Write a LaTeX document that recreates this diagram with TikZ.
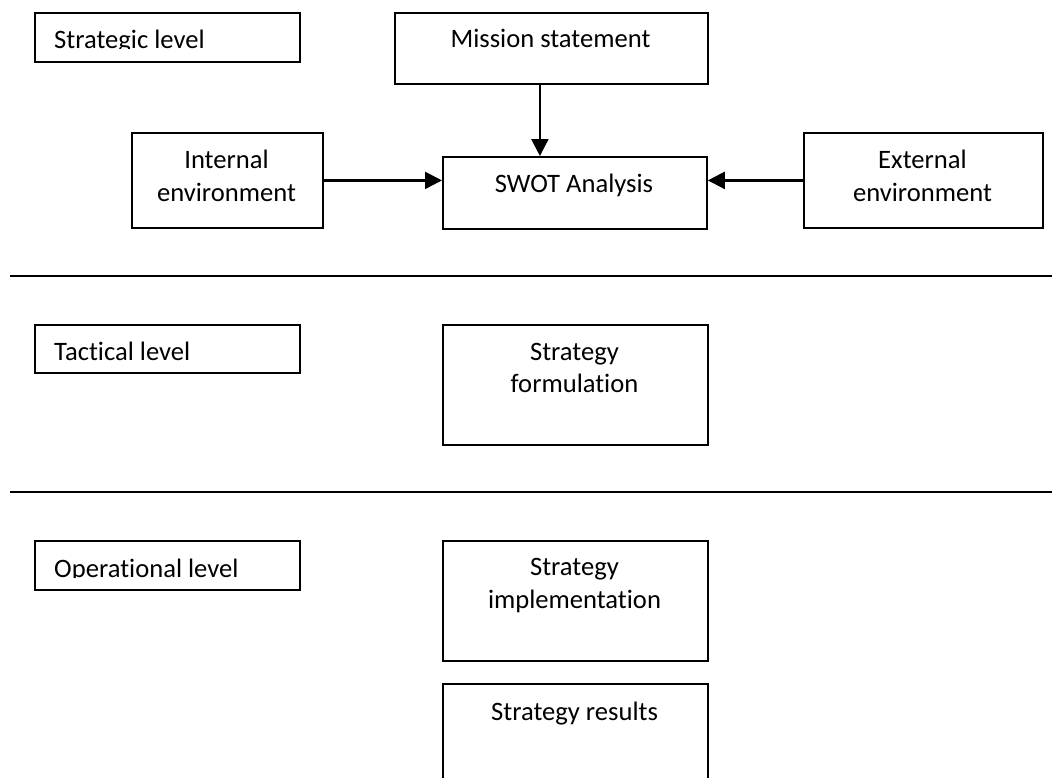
\documentclass[tikz,border=0pt]{standalone}
\usepackage{fontspec}
\setmainfont{Carlito}[Ligatures=NoCommon]
\usetikzlibrary{arrows.meta}
\begin{document}
\begin{tikzpicture}[x=1pt,y=-1pt,
  box/.style={draw, line width=1.8pt, rectangle, inner sep=0pt, anchor=north west},
  txt/.style={anchor=base, inner sep=0pt, font=\fontsize{26.6}{33}\selectfont},
  flow/.style={line width=2.2pt, -{Triangle[length=17pt,width=17pt]}},
  rule/.style={line width=1.8pt}]
  % page frame
  \useasboundingbox (0,0) rectangle (1052,777);
  \fill[white] (0,0) rectangle (1052,777);
  \clip (0,0) rectangle (1052,777);

  % level labels
  \node[box, minimum width=265pt, minimum height=49pt] (strat) at (34,12) {};
  \node[box, minimum width=265pt, minimum height=48pt] (tact) at (34,324) {};
  \node[box, minimum width=265pt, minimum height=49pt] (oper) at (34,540) {};
  \begin{scope}
    \clip (34,12) rectangle (299,48.6);
    \node[txt, anchor=base west] (strat-t) at (54,48.5) {Strategic level};
  \end{scope}
  \node[txt, anchor=base west] (tact-t) at (54,360) {Tactical level};
  \begin{scope}
    \clip (34,540) rectangle (299,577.2);
    \node[txt, anchor=base west] (oper-t) at (54,577) {Operational level};
  \end{scope}

  % strategic level boxes
  \node[box, minimum width=313pt, minimum height=71pt] (mission) at (394,12) {};
  \node[txt] (mission-t) at (550.5,47) {Mission statement};

  \node[box, minimum width=191pt, minimum height=95pt] (internal) at (131,132) {};
  \node[txt] (internal-t1) at (226.5,168) {Internal};
  \node[txt] (internal-t2) at (226.5,201) {environment};

  \node[box, minimum width=239pt, minimum height=95pt] (external) at (803,132) {};
  \node[txt] (external-t1) at (922.5,168) {External};
  \node[txt] (external-t2) at (922.5,201) {environment};

  \node[box, minimum width=264pt, minimum height=72pt] (swot) at (442,156) {};
  \node[txt] (swot-t) at (574,192) {SWOT Analysis};

  % connectors into the SWOT analysis
  \draw[flow] ([xshift=-11.5pt]mission.south) -- ([xshift=-11.5pt]mission.south |- swot.north);
  \draw[flow] (internal.east) -- (internal.east -| swot.west);
  \draw[flow] (external.west) -- (external.west -| swot.east);

  % separators between levels
  \draw[rule] (10,276) -- (1052,276);
  \draw[rule] (10,492) -- (1052,492);

  % tactical level
  \node[box, minimum width=265pt, minimum height=120pt] (form) at (442,324) {};
  \node[txt] (form-t1) at (574.5,360) {Strategy};
  \node[txt] (form-t2) at (574.5,392) {formulation};

  % operational level
  \node[box, minimum width=265pt, minimum height=120pt] (impl) at (442,540) {};
  \node[txt] (impl-t1) at (574.5,575) {Strategy};
  \node[txt] (impl-t2) at (574.5,608) {implementation};

  \node[box, minimum width=265pt, minimum height=120pt] (results) at (442,683) {};
  \node[txt] (results-t) at (574.5,720) {Strategy results};
\end{tikzpicture}
\end{document}
